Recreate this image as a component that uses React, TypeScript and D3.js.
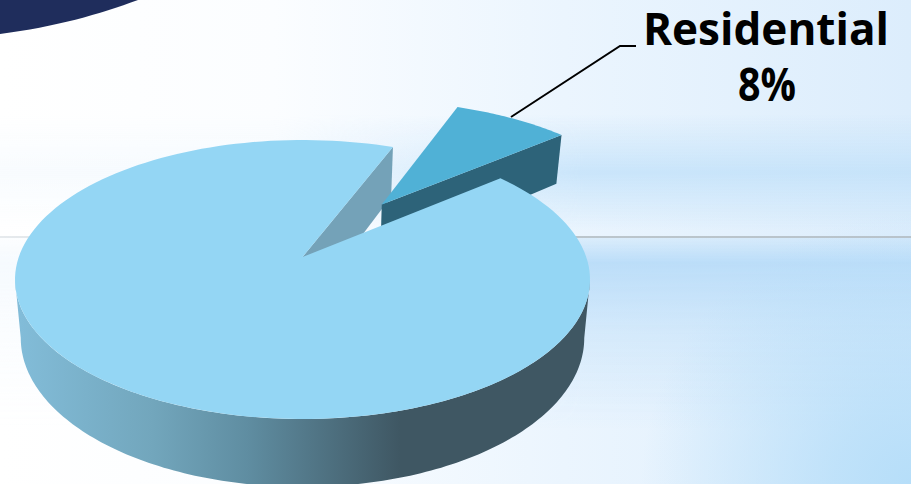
import React from "react";
import * as d3 from "d3";

// Share of the total per category; the first slice is pulled out of the pie.
const categories = ["Residential", "Other"];
const shares = [8, 92];
const calloutLines = ["Residential", "8%"];

const W = 911;
const H = 484;

// Top face of the disc as seen in perspective.
const CX = 302.5;
const CY = 279.5;
const RX = 287.5;
const RY = 139.5;
const TILT = -0.161;
const WALL = 57;
const BASE_SHRINK = 0.98;
const EXPLODE = 0.508;
const START_DEG = 21.5;

const sx = d3.scaleLinear().domain([-1, 1]).range([CX - RX, CX + RX]);
const sy = d3.scaleLinear().domain([-1, 1]).range([CY - RY, CY + RY]);

type P = [number, number];

// Disc coordinates (u right, v toward the viewer) to the top plane.
function top(u: number, v: number): P {
  const d = 1 + TILT * v;
  return [sx((u * Math.sqrt(1 - TILT * TILT)) / d), sy((v + TILT) / d)];
}

// Same disc coordinates on the bottom plane, under the top one.
function base(u: number, v: number): P {
  const d = 1 + TILT * v;
  const [x, y] = top(u, v);
  return [CX + (x - CX) * BASE_SHRINK, y + WALL / d];
}

const rim = (a: number, ox = 0, oy = 0): [number, number] => [
  Math.sin(a) + ox,
  -Math.cos(a) + oy,
];

const line = d3.line<P>();

function sweep(a0: number, a1: number, n = 160): number[] {
  return d3.range(n + 1).map((i) => a0 + ((a1 - a0) * i) / n);
}

const arcs = d3
  .pie<number>()
  .sort(null)
  .startAngle((START_DEG * Math.PI) / 180)
  .endAngle((START_DEG * Math.PI) / 180 + 2 * Math.PI)(shares);

const [pulled, rest] = arcs;

// The pulled slice slides outward along its mid angle.
const mid = (pulled.startAngle + pulled.endAngle) / 2;
const ox = Math.sin(mid) * EXPLODE;
const oy = -Math.cos(mid) * EXPLODE;

const pulledTop = [
  top(ox, oy),
  ...sweep(pulled.startAngle, pulled.endAngle, 40).map((a) => {
    const [u, v] = rim(a, ox, oy);
    return top(u, v);
  }),
];
const [eu, ev] = rim(pulled.endAngle, ox, oy);
const pulledSide = [top(ox, oy), top(eu, ev), base(eu, ev), base(ox, oy)];

const restTop = [
  top(0, 0),
  ...sweep(rest.startAngle, rest.endAngle).map((a) => {
    const [u, v] = rim(a);
    return top(u, v);
  }),
];

// Inner face along the cut, visible through the gap the pulled slice leaves.
const [cu, cv] = rim(rest.endAngle);
const cutFace = [top(0, 0), top(cu, cv), base(cu, cv), base(0, 0)];

// Outer wall between the two points where the top rim turns vertical.
const tangent = Math.acos(TILT);
const wallAngles = sweep(tangent, 2 * Math.PI - tangent);
const wallPath = [
  ...wallAngles.map((a) => {
    const [u, v] = rim(a);
    return top(u, v);
  }),
  ...wallAngles
    .slice()
    .reverse()
    .map((a) => {
      const [u, v] = rim(a);
      return base(u, v);
    }),
];

const leader: P[] = [
  [511, 117],
  [620, 46],
  [636, 46],
];

export default function App() {
  return (
    <svg
      width={W}
      height={H}
      viewBox={`0 0 ${W} ${H}`}
      style={{ position: "fixed", left: 0, top: 0, display: "block" }}
    >
      <defs>
        <linearGradient id="sky" x1="0" y1="0" x2="1" y2="0">
          <stop offset="0" stopColor="#ffffff" />
          <stop offset="0.3" stopColor="#fbfdff" />
          <stop offset="0.62" stopColor="#ebf5fe" />
          <stop offset="1" stopColor="#dcedfc" />
        </linearGradient>
        <linearGradient id="upperBand" x1="0" y1="0" x2="0" y2="1">
          <stop offset="0" stopColor="#bfe0f9" stopOpacity="0" />
          <stop offset="0.5" stopColor="#bfe0f9" stopOpacity="0.75" />
          <stop offset="1" stopColor="#bfe0f9" stopOpacity="0" />
        </linearGradient>
        <linearGradient id="lowerBand" x1="0" y1="0" x2="0" y2="1">
          <stop offset="0" stopColor="#b9dcf8" stopOpacity="0.3" />
          <stop offset="0.13" stopColor="#b9dcf8" stopOpacity="0.95" />
          <stop offset="0.5" stopColor="#b9dcf8" stopOpacity="0.42" />
          <stop offset="1" stopColor="#b9dcf8" stopOpacity="0" />
        </linearGradient>
        <linearGradient id="bandFade" x1="0" y1="0" x2="1" y2="0">
          <stop offset="0" stopColor="#fff" stopOpacity="0.14" />
          <stop offset="0.3" stopColor="#fff" stopOpacity="0.14" />
          <stop offset="0.64" stopColor="#fff" stopOpacity="1" />
        </linearGradient>
        <mask id="bandMask" maskUnits="userSpaceOnUse" x="0" y="0" width={W} height={H}>
          <rect width={W} height={H} fill="url(#bandFade)" />
        </mask>
        <radialGradient id="corner" gradientUnits="userSpaceOnUse" cx={W} cy={H} r={270}>
          <stop offset="0" stopColor="#b6def9" stopOpacity="1" />
          <stop offset="0.3" stopColor="#b6def9" stopOpacity="0.75" />
          <stop offset="1" stopColor="#b6def9" stopOpacity="0" />
        </radialGradient>
        <linearGradient id="rule" x1="0" y1="0" x2="1" y2="0">
          <stop offset="0" stopColor="#e6eaed" />
          <stop offset="0.6" stopColor="#bcc6cc" />
          <stop offset="1" stopColor="#b8c3cb" />
        </linearGradient>
        <linearGradient id="wallShade" gradientUnits="userSpaceOnUse" x1="20" y1="0" x2="400" y2="0">
          <stop offset="0" stopColor="#82bcd8" />
          <stop offset="0.35" stopColor="#72a6bc" />
          <stop offset="0.6" stopColor="#5f8da1" />
          <stop offset="1" stopColor="#3f5763" />
        </linearGradient>
      </defs>

      <rect width={W} height={H} fill="url(#sky)" />
      <g mask="url(#bandMask)">
        <rect y={115} width={W} height={115} fill="url(#upperBand)" />
        <rect y={238} width={W} height={190} fill="url(#lowerBand)" />
      </g>
      <rect width={W} height={H} fill="url(#corner)" />

      <rect x={0} y={236} width={W} height={2} fill="url(#rule)" />

      <path d="M0,34 C55,27 100,14 138,0 L0,0 Z" fill="#1f2d5c" />

      <path d={line(leader) ?? ""} fill="none" stroke="#000" strokeWidth={2} />

      <path d={(line(cutFace) ?? "") + "Z"} fill="#74a2b8" />
      <path d={(line(pulledSide) ?? "") + "Z"} fill="#2d6379" />
      <path d={(line(pulledTop) ?? "") + "Z"} fill="#50b1d6" />
      <path d={(line(wallPath) ?? "") + "Z"} fill="url(#wallShade)" />
      <path d={(line(restTop) ?? "") + "Z"} fill="#94d6f4" />

      <text
        x={766}
        y={45}
        textAnchor="middle"
        fontFamily="'Open Sans', sans-serif"
        fontWeight={700}
        fontSize={45}
        textLength={246}
        lengthAdjust="spacingAndGlyphs"
        fill="#000"
      >
        {calloutLines[0]}
      </text>
      <text
        x={767}
        y={100.5}
        textAnchor="middle"
        fontFamily="'Open Sans', sans-serif"
        fontWeight={700}
        fontSize={47}
        textLength={58}
        lengthAdjust="spacingAndGlyphs"
        fill="#000"
      >
        {calloutLines[1]}
      </text>
    </svg>
  );
}

export { categories };
